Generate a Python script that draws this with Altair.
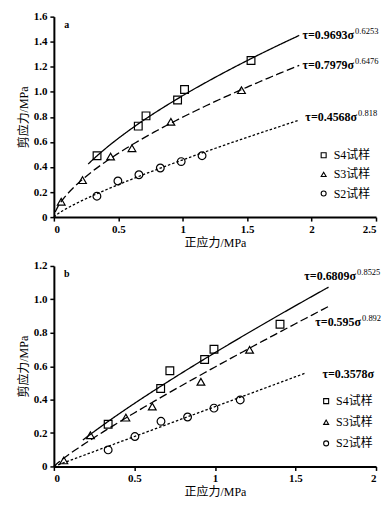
import altair as alt
import pandas as pd
import numpy as np

series = ["S4试样", "S3试样", "S2试样"]
fits = ["S4", "S3", "S2"]
shapes = ["square", "triangle-up", "circle"]
dashes = [[1, 0], [8, 3.5], [2.5, 2]]

# ---- panel a ----
a_s4_x = [0.335, 0.655, 0.715, 0.960, 1.014, 1.530]
a_s4_y = [0.490, 0.726, 0.808, 0.934, 1.018, 1.250]
a_s3_x = [0.057, 0.222, 0.440, 0.606, 0.908, 1.456]
a_s3_y = [0.123, 0.295, 0.483, 0.550, 0.760, 1.013]
a_s2_x = [0.334, 0.497, 0.660, 0.826, 0.988, 1.150]
a_s2_y = [0.167, 0.288, 0.338, 0.392, 0.443, 0.490]
a_coef = [0.9693, 0.7979, 0.4568]
a_expo = [0.6253, 0.6476, 0.818]
a_start = [0.266, 0.01, 0.0]
a_end = [1.904, 1.904, 1.904]
a_main = ["τ=0.9693σ", "τ=0.7979σ", "τ=0.4568σ"]
a_sup = ["0.6253", "0.6476", "0.818"]
a_lab_x = [2.33, 2.33, 2.353]
a_lab_y = [1.457, 1.216, 0.80]
a_xticks = [0, 0.5, 1, 1.5, 2, 2.5]
a_yticks = [0, 0.2, 0.4, 0.6, 0.8, 1.0, 1.2, 1.4, 1.6]

# ---- panel b ----
b_s4_x = [0.337, 0.663, 0.720, 0.936, 0.994, 1.404]
b_s4_y = [0.252, 0.466, 0.573, 0.640, 0.701, 0.851]
b_s3_x = [0.062, 0.227, 0.447, 0.611, 0.913, 1.215]
b_s3_y = [0.036, 0.187, 0.292, 0.358, 0.507, 0.698]
b_s2_x = [0.337, 0.503, 0.665, 0.830, 0.994, 1.157]
b_s2_y = [0.099, 0.179, 0.270, 0.296, 0.349, 0.398]
b_coef = [0.6809, 0.595, 0.3578]
b_expo = [0.8525, 0.892, 1.0]
b_start = [0.18, 0.0, 0.0]
b_end = [1.705, 1.714, 1.56]
b_main = ["τ=0.6809σ", "τ=0.595σ", "τ=0.3578σ"]
b_sup = ["0.8525", "0.892", ""]
b_lab_x = [1.876, 1.907, 1.988]
b_lab_y = [1.142, 0.864, 0.551]
b_xticks = [0, 0.5, 1, 1.5, 2]
b_yticks = [0, 0.2, 0.4, 0.6, 0.8, 1.0, 1.2]

SERIF = "Liberation Serif, Noto Sans CJK SC"
W, H = 323, 201


def panel(letter, xs, ys, coefs, expos, starts, ends, mains, sups, lab_x, lab_y,
          xticks, yticks, leg_x, leg_y, row_pad):
    pts = pd.DataFrame({
        "x": sum(xs, []),
        "y": sum(ys, []),
        "series": sum([[s] * len(x) for s, x in zip(series, xs)], []),
    })
    rows = []
    for f, c, e, x0, x1 in zip(fits, coefs, expos, starts, ends):
        for xv in np.linspace(x0, x1, 80):
            rows.append({"x": xv, "y": c * xv ** e, "fit": f})
    lines = pd.DataFrame(rows)
    labs = pd.DataFrame({"x": lab_x, "y": lab_y, "main": mains, "sup": sups})

    xenc = alt.X("x:Q", scale=alt.Scale(domain=[xticks[0], xticks[-1]], nice=False),
                 axis=alt.Axis(values=xticks, format="~g", title="正应力/MPa",
                               titlePadding=3, labelPadding=2))
    yenc = alt.Y("y:Q", scale=alt.Scale(domain=[yticks[0], yticks[-1]], nice=False),
                 axis=alt.Axis(values=yticks, title="剪应力/MPa", titlePadding=3,
                               labelPadding=3,
                               labelExpr="datum.value == 0 ? '0' : format(datum.value, '.1f')"))

    line = alt.Chart(lines).mark_line(color="black", strokeWidth=1.3).encode(
        x=xenc, y=yenc,
        strokeDash=alt.StrokeDash("fit:N", scale=alt.Scale(domain=fits, range=dashes),
                                  legend=None),
    )
    points = alt.Chart(pts).mark_point(filled=False, color="black", size=60,
                                       strokeWidth=1.2, opacity=1).encode(
        x=xenc, y=yenc,
        shape=alt.Shape("series:N", scale=alt.Scale(domain=series, range=shapes),
                        legend=alt.Legend(title=None, orient="none", legendX=leg_x,
                                          legendY=leg_y, symbolSize=25,
                                          symbolStrokeColor="black",
                                          symbolFillColor="white",
                                          symbolStrokeWidth=1.1,
                                          symbolOpacity=1,
                                          labelFont=SERIF, labelFontSize=12,
                                          labelColor="black", labelOffset=4,
                                          rowPadding=row_pad, padding=0)),
    )
    main_txt = alt.Chart(labs).mark_text(align="right", baseline="middle", font=SERIF,
                                         fontWeight="bold", fontSize=12,
                                         color="black").encode(x=xenc, y=yenc, text="main:N")
    sup_txt = alt.Chart(labs).mark_text(align="left", baseline="middle", font=SERIF,
                                        fontWeight="normal", fontSize=8.5, dx=1, dy=-4,
                                        color="black").encode(x=xenc, y=yenc, text="sup:N")
    tag = alt.Chart(pd.DataFrame({"t": [letter]})).mark_text(
        font=SERIF, fontWeight="bold", fontSize=10, color="black", align="center",
        baseline="middle").encode(x=alt.value(13), y=alt.value(8), text="t:N")
    return alt.layer(line, points, main_txt, sup_txt, tag).properties(width=W, height=H)


pa = panel("a", [a_s4_x, a_s3_x, a_s2_x], [a_s4_y, a_s3_y, a_s2_y], a_coef, a_expo,
           a_start, a_end, a_main, a_sup, a_lab_x, a_lab_y, a_xticks, a_yticks,
           264.5, 133, 7.2)
pb = panel("b", [b_s4_x, b_s3_x, b_s2_x], [b_s4_y, b_s3_y, b_s2_y], b_coef, b_expo,
           b_start, b_end, b_main, b_sup, b_lab_x, b_lab_y, b_xticks, b_yticks,
           267, 129.5, 9.2)

chart = alt.vconcat(pa, pb, spacing=12).resolve_scale(
    x="independent", y="independent", shape="independent", strokeDash="independent"
).resolve_legend(shape="independent").properties(
    padding={"left": 9, "top": 2, "right": 0, "bottom": 2}
).configure_view(stroke=None).configure_axis(
    domainColor="black", domainWidth=2, tickColor="black", tickWidth=1.5, tickSize=4,
    grid=False, labelFont=SERIF, labelFontWeight="bold", labelFontSize=11,
    labelColor="black", titleFont=SERIF, titleFontSize=12, titleFontWeight="normal",
    titleColor="black"
)

chart.save("out.html", embed_options={"renderer": "svg", "actions": False})
